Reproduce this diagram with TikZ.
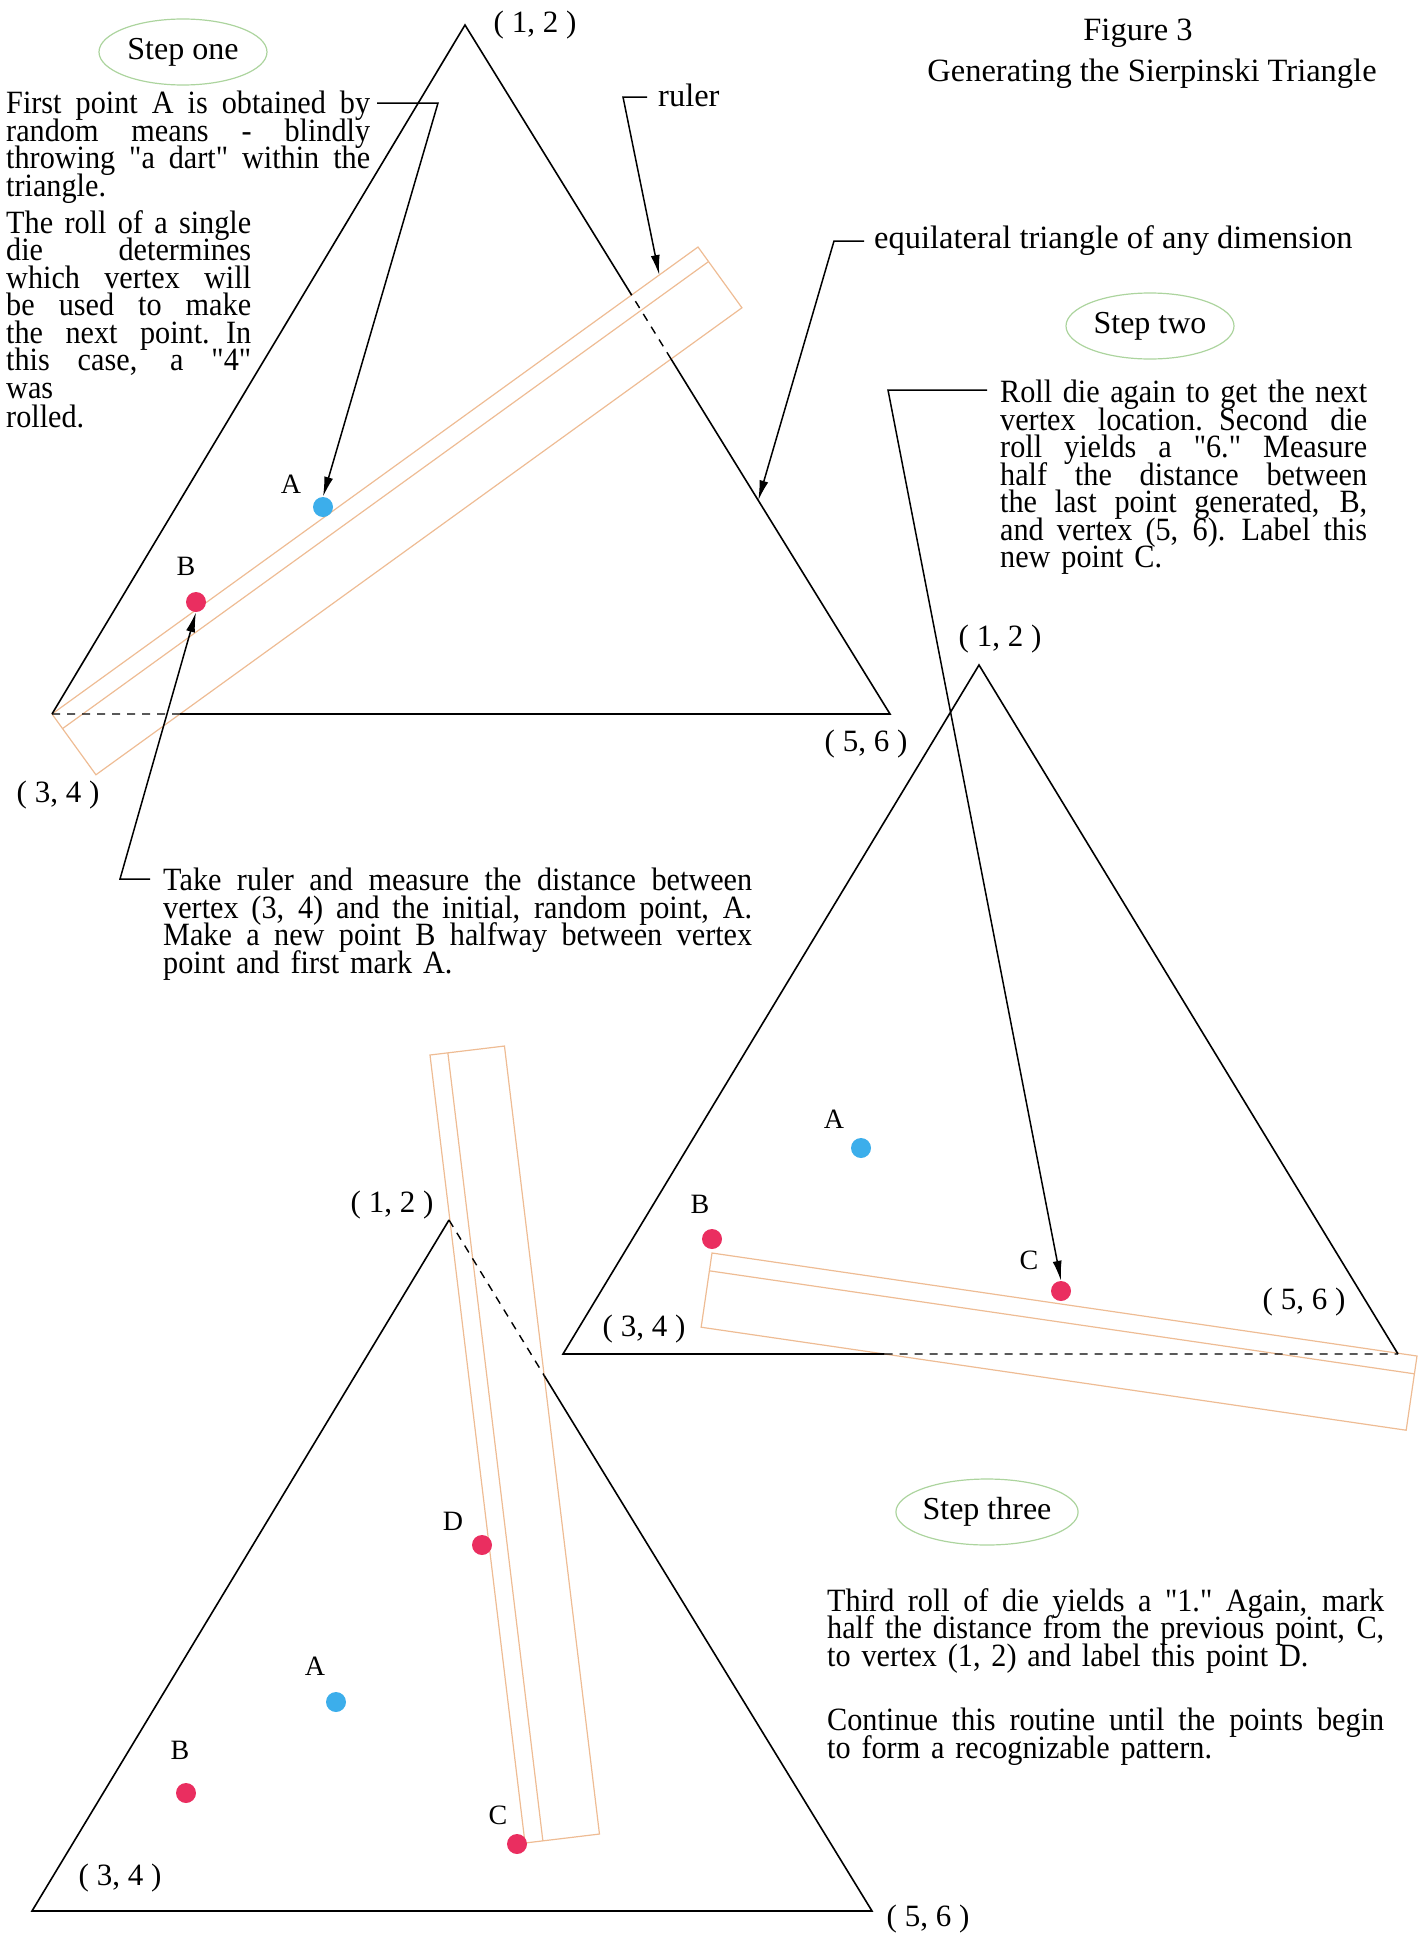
\documentclass[tikz,border=0pt]{standalone}
\usepackage{fontspec}
\setmainfont{Liberation Serif}
\newfontfamily\narrowfont{Liberation Serif}[FakeStretch=0.93]
\usetikzlibrary{calc,shapes.geometric,arrows.meta,positioning}

\definecolor{rulerorange}{RGB}{238,188,148}
\definecolor{stepgreen}{RGB}{172,212,158}
\definecolor{dotblue}{RGB}{60,174,235}
\definecolor{dotred}{RGB}{234,46,96}

\newcommand{\tightlines}{\setlength{\lineskiplimit}{-100pt}}
\newcommand{\dq}{\symbol{"22}}

\begin{document}
\begin{tikzpicture}[x=1pt,y=-1pt]

% --- STYLES ---
\tikzset{
  txt/.style={font=\fontsize{32.5}{27.5}\selectfont\tightlines,
              inner sep=0pt, anchor=north west, align=left},
  note/.style={txt, font=\narrowfont\fontsize{32.5}{27.5}\selectfont\tightlines},
  steplabel/.style={ellipse, draw=stepgreen, line width=1.2pt,
                    minimum width=168pt, minimum height=66pt, inner sep=0pt,
                    font=\fontsize{32}{32}\selectfont},
  vtx/.style={font=\fontsize{31}{31}\selectfont, inner sep=0pt},
  ptname/.style={font=\fontsize{28}{28}\selectfont, inner sep=0pt},
  dotA/.style={circle, fill=dotblue, minimum size=20pt, inner sep=0pt},
  dotB/.style={circle, fill=dotred, minimum size=20pt, inner sep=0pt},
  edge/.style={black, line width=1.6pt},
  hidden/.style={black, line width=1.4pt, dash pattern=on 8pt off 7pt},
  rulerline/.style={rulerorange, line width=1.2pt},
  leader/.style={black, line width=1.5pt, -{Latex[length=20pt, width=9pt]}},
}

% --- JUSTIFIED LINE / RULER MACROS ---
\newcommand{\fillline}[1]{\leavevmode\hbox to \hsize{\spaceskip=0.25em plus 2em\relax #1}}
\newcommand{\drawruler}[3]{
  \coordinate (#1a) at #2;
  \coordinate (#1b) at #3;
  \coordinate (#1c) at ($(#1b)!75pt!90:(#1a)$);
  \coordinate (#1d) at ($(#1a)!75pt!-90:(#1b)$);
  \draw[rulerline] (#1a) -- (#1b) -- (#1c) -- (#1d) -- cycle;
  \draw[rulerline] ($(#1a)!18pt!-90:(#1b)$) -- ($(#1b)!18pt!90:(#1a)$);
}

\useasboundingbox (0,0) rectangle (1424,1935);

% ================= TITLE =================
\node[txt, anchor=center] (figno) at (1138,33) {Figure 3};
\node[txt, anchor=center] (figtitle) at (1152,74) {Generating the Sierpinski Triangle};

% ================= STEP ONE =================
\node[steplabel] (stepone) at (183,52) {Step one};

\node[note, text width=364pt] (introA) at (6,91) {\fillline{First point A is obtained by}\\
  \fillline{random means - blindly}\\
  \fillline{throwing \dq a dart\dq{} within the}\\
  triangle.};
\node[note, text width=245pt] (introB) at (6,210) {\fillline{The roll of a single}\\
  \fillline{die determines}\\
  \fillline{which vertex will}\\
  \fillline{be used to make}\\
  \fillline{the next point. In}\\
  \fillline{this case, a \dq 4\dq}\\
  was\\[2pt]
  rolled.};

\coordinate (t1top) at (465,25);
\coordinate (t1left) at (52,714);
\coordinate (t1right) at (890,714);

\drawruler{r1}{(t1left)}{(698,247)}

\coordinate (t1p) at (intersection of t1top--t1right and r1a--r1b);
\coordinate (t1q) at (intersection of t1top--t1right and r1d--r1c);
\coordinate (t1s) at (intersection of t1left--t1right and r1d--r1c);
\draw[edge] (t1s) -- (t1right) -- (t1q);
\draw[edge] (t1p) -- (t1top) -- (t1left);
\draw[hidden] (t1left) -- (t1s);
\draw[hidden] (t1q) -- (t1p);

\node[vtx] (v1a) at (535,25) {( 1, 2 )};
\node[vtx] (v1b) at (58,795) {( 3, 4 )};
\node[vtx] (v1c) at (866,744) {( 5, 6 )};

\node[dotA] (pA1) at (323,507) {};
\node[dotB] (pB1) at (196,602) {};
\node[ptname] (lA1) at (291,484) {A};
\node[ptname] (lB1) at (186,566) {B};

\node[txt, anchor=west] (lblruler) at (658,95) {ruler};
\node[txt, anchor=west] (lblequi) at (874,241) {equilateral triangle of any dimension};

\node[note, text width=589pt] (measure) at (163,868) {\fillline{Take ruler and measure the distance between}\\
  \fillline{vertex (3, 4) and the initial, random point, A.}\\
  \fillline{Make a new point B halfway between vertex}\\
  point and first mark A.};

% --- leaders ---
\coordinate (kA0) at (377,103);
\coordinate (kA1) at (438,103);
\draw[leader] (kA0) -- (kA1) -- (pA1.north);

\coordinate (kR0) at (647,97);
\coordinate (kR1) at (623,97);
\draw[leader] (kR0) -- (kR1) -- ($(r1a)!0.94!(r1b)$);

\coordinate (kE0) at (864,241);
\coordinate (kE1) at (834,241);
\draw[leader] (kE0) -- (kE1) -- ($(t1top)!0.69!(t1right)$);

\coordinate (kB0) at (150,879);
\coordinate (kB1) at (120,879);
\draw[leader] (kB0) -- (kB1) -- (pB1.south);

% ================= STEP TWO =================
\node[steplabel] (steptwo) at (1150,326) {Step two};

\node[note, text width=367pt] (rolltwo) at (1000,380) {\fillline{Roll die again to get the next}\\
  \fillline{vertex location.  Second die}\\
  \fillline{roll yields a \dq 6.\dq{} Measure}\\
  \fillline{half the distance between}\\
  \fillline{the last point generated, B,}\\
  \fillline{and vertex (5, 6).  Label this}\\
  new point C.};

\coordinate (t2top) at (979,665);
\coordinate (t2left) at (563,1354);
\coordinate (t2right) at (1398,1354);

\drawruler{r2}{(712,1253)}{(1417,1356)}

\coordinate (t2s) at (intersection of t2left--t2right and r2d--r2c);
\draw[edge] (t2s) -- (t2left) -- (t2top) -- (t2right);
\draw[hidden] (t2s) -- (t2right);

\node[vtx] (v2a) at (1000,639) {( 1, 2 )};
\node[vtx] (v2b) at (644,1329) {( 3, 4 )};
\node[vtx] (v2c) at (1304,1302) {( 5, 6 )};

\node[dotA] (pA2) at (861,1148) {};
\node[dotB] (pB2) at (712,1239) {};
\node[dotB] (pC2) at (1061,1291) {};
\node[ptname] (lA2) at (834,1119) {A};
\node[ptname] (lB2) at (700,1204) {B};
\node[ptname] (lC2) at (1029,1260) {C};

\coordinate (kC0) at (987,390);
\coordinate (kC1) at (888,390);
\draw[leader] (kC0) -- (kC1) -- (pC2.north);

% ================= STEP THREE =================
\node[steplabel] (stepthree) at (987,1512) {Step three};

\node[note, text width=557pt] (rollthree) at (827,1588) {\fillline{Third roll of die yields a \dq 1.\dq{}  Again, mark}\\
  \fillline{half the distance from the previous point, C,}\\
  to vertex (1, 2) and label this point D.\\[37pt]
  \fillline{Continue this routine until the points begin}\\
  to form a recognizable pattern.};

\coordinate (t3top) at (449,1220);
\coordinate (t3left) at (32,1911);
\coordinate (t3right) at (872,1911);

\drawruler{r3}{(525,1843)}{(430,1055)}

\coordinate (t3p) at (intersection of t3top--t3right and r3d--r3c);
\draw[edge] (t3p) -- (t3right) -- (t3left) -- (t3top);
\draw[hidden] (t3top) -- (t3p);

\node[vtx] (v3a) at (392,1205) {( 1, 2 )};
\node[vtx] (v3b) at (120,1878) {( 3, 4 )};
\node[vtx] (v3c) at (928,1919) {( 5, 6 )};

\node[dotB] (pD3) at (482,1545) {};
\node[dotA] (pA3) at (336,1702) {};
\node[dotB] (pB3) at (186,1793) {};
\node[dotB] (pC3) at (517,1844) {};
\node[ptname] (lD3) at (453,1521) {D};
\node[ptname] (lA3) at (315,1666) {A};
\node[ptname] (lB3) at (180,1750) {B};
\node[ptname] (lC3) at (498,1815) {C};

\end{tikzpicture}
\end{document}
